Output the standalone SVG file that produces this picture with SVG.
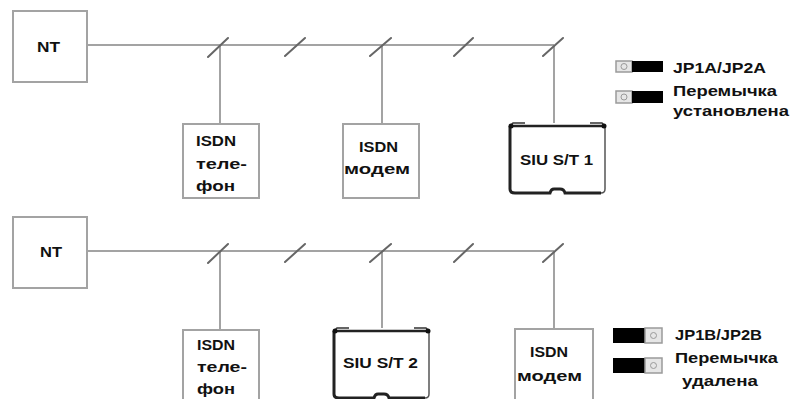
<svg xmlns="http://www.w3.org/2000/svg" xmlns:xlink="http://www.w3.org/1999/xlink" width="790" height="399" viewBox="0 0 790 399">
<style>
.box{fill:#fff;stroke:#a3a3a3;stroke-width:2}
.wire{stroke:#a3a3a3;stroke-width:2;fill:none}
.tick{stroke:#666;stroke-width:2;fill:none;stroke-linecap:round}
.t{font-family:"Liberation Sans",Arial,sans-serif;font-weight:bold;font-size:14px;fill:#111}
.pinG{fill:#e6e6e6;stroke:#9a9a9a;stroke-width:1.5}
.pinC{fill:none;stroke:#9a9a9a;stroke-width:1}
.pinB{fill:#000}
</style>
<defs>
<g id="siu">
<path d="M2,3 L97,3 L97,66 Q97,70 93,70 L57,70 Q56,66 52,66 L46,66 Q43,66 42,70 L7,70 Q2,70 2,66 Z" fill="#fff" stroke="#555" stroke-width="1.5"/>
<path d="M2,3 L2,66 Q2,70 7,70 L42,70 Q43,66 46,66 L52,66 Q56,66 57,70 L93,70" fill="none" stroke="#222" stroke-width="3"/>
<path d="M3,2 L5,0 L17,0 M82,0 L94,0 L96,2" fill="none" stroke="#333" stroke-width="1.5"/>
<line x1="2" y1="3" x2="97" y2="3" stroke="#222" stroke-width="2.5"/>
<circle cx="3" cy="3" r="2.5" fill="#111"/>
<circle cx="96" cy="3" r="2.5" fill="#111"/>
</g>
</defs>
<rect width="790" height="399" fill="#fff"/>

<g id="connectors">
<path class="wire" d="M87,45 H554 M220,45 V124 M382,45 V124 M554,45 V123"/>
<path class="tick" d="M208,57 L228,38 M285,56 L305,38 M370,56 L391,38 M454,56 L473,38 M543,56 L563,38"/>
<path class="wire" d="M87,251 H554 M220,251 V330 M382,251 V328 M554,251 V329"/>
<path class="tick" d="M208,263 L228,244 M285,262 L305,244 M370,262 L391,244 M454,262 L473,244 M543,262 L563,244"/>
</g>

<g id="nt1">
<rect class="box" x="13" y="11" width="74" height="71"/>
<text class="t" x="37" y="52" textLength="23" lengthAdjust="spacingAndGlyphs">NT</text>
</g>
<g id="phone1">
<rect class="box" x="183" y="124" width="76" height="74"/>
<text class="t" x="196" y="146" textLength="40" lengthAdjust="spacingAndGlyphs">ISDN</text>
<text class="t" x="196" y="169" textLength="51" lengthAdjust="spacingAndGlyphs">теле-</text>
<text class="t" x="196" y="191" textLength="39" lengthAdjust="spacingAndGlyphs">фон</text>
</g>
<g id="modem1">
<rect class="box" x="343" y="124" width="76" height="74"/>
<text class="t" x="359" y="152" textLength="39" lengthAdjust="spacingAndGlyphs">ISDN</text>
<text class="t" x="344" y="174" textLength="66" lengthAdjust="spacingAndGlyphs">модем</text>
</g>
<g id="siu1">
<use xlink:href="#siu" x="508" y="123"/>
<text class="t" x="520" y="165" textLength="73" lengthAdjust="spacingAndGlyphs">SIU S/T 1</text>
</g>
<g id="jumper1">
<rect class="pinG" x="616" y="61" width="16" height="11"/>
<circle class="pinC" cx="624" cy="66.5" r="3"/>
<rect class="pinB" x="632" y="61" width="31" height="11"/>
<rect class="pinG" x="616" y="91" width="16" height="12"/>
<circle class="pinC" cx="624" cy="97" r="3"/>
<rect class="pinB" x="632" y="91" width="31" height="12"/>
<text class="t" x="673" y="73" textLength="93" lengthAdjust="spacingAndGlyphs">JP1A/JP2A</text>
<text class="t" x="673" y="96" textLength="104" lengthAdjust="spacingAndGlyphs">Перемычка</text>
<text class="t" x="673" y="116" textLength="116" lengthAdjust="spacingAndGlyphs">установлена</text>
</g>

<g id="nt2">
<rect class="box" x="13" y="217" width="74" height="71"/>
<text class="t" x="40" y="257" textLength="22" lengthAdjust="spacingAndGlyphs">NT</text>
</g>
<g id="phone2">
<rect class="box" x="183" y="330" width="76" height="74"/>
<text class="t" x="197" y="350" textLength="38" lengthAdjust="spacingAndGlyphs">ISDN</text>
<text class="t" x="197" y="372" textLength="50" lengthAdjust="spacingAndGlyphs">теле-</text>
<text class="t" x="197" y="394" textLength="38" lengthAdjust="spacingAndGlyphs">фон</text>
</g>
<g id="siu2">
<use xlink:href="#siu" x="332" y="328"/>
<text class="t" x="343" y="368" textLength="75" lengthAdjust="spacingAndGlyphs">SIU S/T 2</text>
</g>
<g id="modem2">
<rect class="box" x="515" y="329" width="78" height="74"/>
<text class="t" x="530" y="357" textLength="38" lengthAdjust="spacingAndGlyphs">ISDN</text>
<text class="t" x="517" y="381" textLength="65" lengthAdjust="spacingAndGlyphs">модем</text>
</g>
<g id="jumper2">
<rect class="pinB" x="613" y="328" width="32" height="15"/>
<rect class="pinG" x="645" y="328" width="17" height="15"/>
<circle class="pinC" cx="653.5" cy="335.5" r="3"/>
<rect class="pinB" x="613" y="358" width="32" height="15"/>
<rect class="pinG" x="645" y="358" width="17" height="15"/>
<circle class="pinC" cx="653.5" cy="365.5" r="3"/>
<text class="t" x="675" y="340" textLength="87" lengthAdjust="spacingAndGlyphs">JP1B/JP2B</text>
<text class="t" x="675" y="363" textLength="103" lengthAdjust="spacingAndGlyphs">Перемычка</text>
<text class="t" x="682" y="386" textLength="76" lengthAdjust="spacingAndGlyphs">удалена</text>
</g>
</svg>
